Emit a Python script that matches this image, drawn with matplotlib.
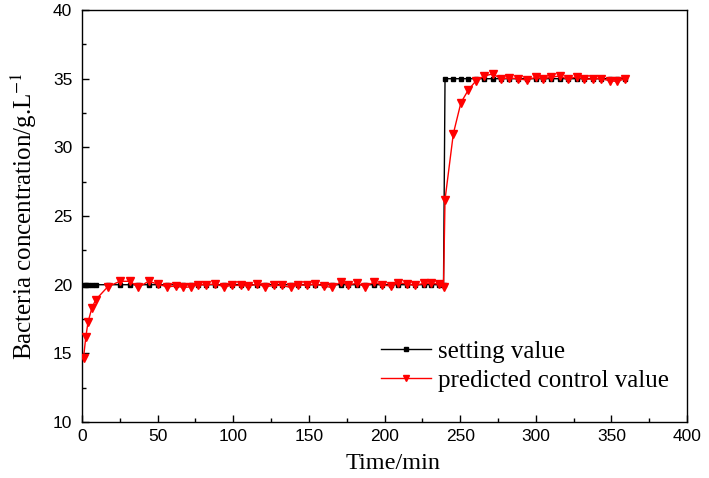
import matplotlib
matplotlib.use("Agg")
import matplotlib.pyplot as plt
from matplotlib.ticker import MultipleLocator

time_min = [1, 2.5, 4, 6.5, 9, 17,
            25, 32, 37, 44, 50, 56, 62, 67, 72, 77, 82, 88, 94, 99, 105, 110, 116, 121, 127,
            132, 138, 143, 149, 154, 160, 165, 171, 176, 182, 187, 193, 198, 204, 209, 215,
            220, 226, 231, 236, 239,
            240, 245.5, 250.5, 255.5, 260.5, 266, 271.5, 277, 282.5, 288, 294, 300, 305, 310,
            316, 321, 327, 332, 338, 343, 349, 354, 359]

setting_value = [20, 20, 20, 20, 20, 20,
                 20, 20, 20, 20, 20, 20, 20, 20, 20, 20, 20, 20, 20, 20, 20, 20, 20, 20, 20,
                 20, 20, 20, 20, 20, 20, 20, 20, 20, 20, 20, 20, 20, 20, 20, 20,
                 20, 20, 20, 20, 20,
                 35, 35, 35, 35, 35, 35, 35, 35, 35, 35, 35, 35, 35, 35,
                 35, 35, 35, 35, 35, 35, 35, 35, 35]

predicted_value = [14.7, 16.2, 17.3, 18.3, 18.9, 19.85,
                   20.25, 20.25, 19.8, 20.25, 20.05, 19.85, 19.9, 19.8, 19.85, 20.0, 20.0, 20.05,
                   19.85, 19.95, 19.95, 19.9, 20.05, 19.85, 19.95,
                   19.95, 19.8, 20.0, 19.95, 20.05, 19.9, 19.8, 20.2, 20.0, 20.1, 19.85, 20.2,
                   20.0, 19.9, 20.15, 20.05,
                   19.95, 20.1, 20.1, 20.05, 19.8,
                   26.2, 31.0, 33.25, 34.2, 34.85, 35.2, 35.35, 35.0, 35.05, 35.0, 34.9, 35.1,
                   35.0, 35.1,
                   35.2, 34.95, 35.15, 34.95, 35.0, 35.0, 34.85, 34.8, 35.0]

plt.rcParams['mathtext.fontset'] = 'stix'

fig = plt.figure(figsize=(7.09, 4.78), dpi=100)
ax = fig.add_axes([0.1157, 0.117, 0.8533, 0.862])

ax.plot(time_min, setting_value, color='black', lw=1.0, marker='s', ms=3.5,
        label='setting value', zorder=2)
ax.plot(time_min, predicted_value, color='red', lw=1.0, marker='v', ms=5.5,
        label='predicted control value', zorder=3)

ax.set_xlim(0, 400)
ax.set_ylim(10, 40)
ax.xaxis.set_major_locator(MultipleLocator(50))
ax.xaxis.set_minor_locator(MultipleLocator(25))
ax.yaxis.set_major_locator(MultipleLocator(5))
ax.yaxis.set_minor_locator(MultipleLocator(2.5))
ax.tick_params(which='both', direction='in', top=False, right=False, width=1.0)
ax.tick_params(which='major', length=5, labelsize=12.5)
ax.tick_params(axis='y', which='major', pad=7)
ax.tick_params(axis='x', which='major', pad=5)
ax.tick_params(which='minor', length=3)
for lab in ax.get_xticklabels() + ax.get_yticklabels():
    lab.set_fontfamily('Liberation Sans')
for sp in ax.spines.values():
    sp.set_linewidth(1.0)

ax.set_xlabel('Time/min', fontfamily='Liberation Serif', fontsize=17.5)
ax.xaxis.set_label_coords(0.514, -0.076)
ax.set_ylabel('Bacteria concentration/g.L$^{-1}$', fontfamily='Liberation Serif',
              fontsize=18, labelpad=10)

leg = ax.legend(loc='upper left', bbox_to_anchor=(0.494, 0.198), frameon=False,
                prop={'family': 'Liberation Serif', 'size': 18}, handlelength=2.0,
                handletextpad=0.3, labelspacing=0.27, borderaxespad=0, borderpad=0,
                numpoints=1, markerscale=0.7)

fig.savefig('out.png', dpi=100)
